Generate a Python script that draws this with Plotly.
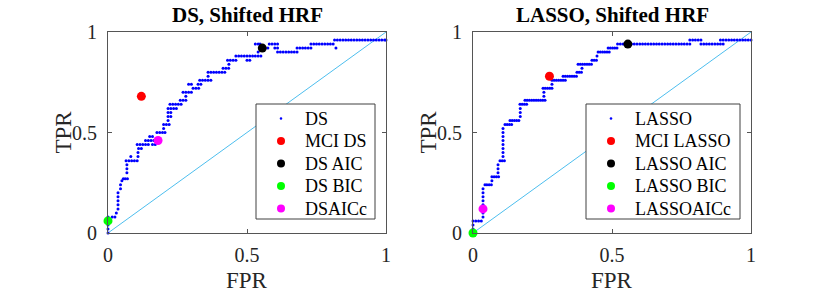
import plotly.graph_objects as go

# ---------------- data ----------------
PANEL_TITLES = ["DS, Shifted HRF", "LASSO, Shifted HRF"]
X_LABEL = "FPR"
Y_LABEL = "TPR"
TICK_VALS = [0, 0.5, 1]
TICK_TEXT = ["0", "0.5", "1"]

DS_NAMES = ["DS", "MCI DS", "DS AIC", "DS BIC", "DSAICc"]
LASSO_NAMES = ["LASSO", "MCI LASSO", "LASSO AIC", "LASSO BIC", "LASSOAICc"]

# ROC points (FPR, TPR)
DS_POINTS = [
    (0, 0), (0, 0.02), (0, 0.04), (0, 0.06), (0, 0.08),
    (0.015, 0.08), (0.025, 0.08), (0.03, 0.1),
    (0.036, 0.12), (0.036, 0.14), (0.036, 0.16), (0.036, 0.18), (0.036, 0.2),
    (0.045, 0.22), (0.045, 0.24), (0.05, 0.26),
    (0.055, 0.27), (0.062, 0.27), (0.07, 0.27),
    (0.068, 0.3), (0.068, 0.32), (0.068, 0.34),
    (0.065, 0.36), (0.075, 0.36), (0.085, 0.36), (0.095, 0.36), (0.105, 0.36),
    (0.082, 0.38),
    (0.108, 0.38), (0.108, 0.4), (0.11, 0.42), (0.12, 0.42),
    (0.105, 0.44), (0.115, 0.44), (0.125, 0.44), (0.135, 0.44), (0.145, 0.44), (0.16, 0.44), (0.17, 0.44),
    (0.135, 0.46), (0.145, 0.46), (0.155, 0.46), (0.165, 0.46), (0.175, 0.46), (0.185, 0.46),
    (0.15, 0.48), (0.16, 0.48),
    (0.176, 0.5), (0.186, 0.5), (0.196, 0.5), (0.205, 0.5),
    (0.2, 0.52),
    (0.2, 0.54), (0.21, 0.54), (0.22, 0.54),
    (0.216, 0.56), (0.216, 0.58), (0.226, 0.58), (0.216, 0.6), (0.226, 0.6),
    (0.216, 0.62), (0.226, 0.62), (0.236, 0.62), (0.246, 0.62),
    (0.223, 0.64), (0.233, 0.64), (0.243, 0.64), (0.253, 0.64), (0.263, 0.64),
    (0.26, 0.66), (0.27, 0.66), (0.28, 0.66),
    (0.28, 0.68),
    (0.27, 0.7), (0.28, 0.7), (0.29, 0.7), (0.3, 0.7),
    (0.306, 0.72), (0.316, 0.72), (0.326, 0.72),
    (0.29, 0.74), (0.3, 0.74), (0.324, 0.74), (0.334, 0.74),
    (0.33, 0.76), (0.34, 0.76), (0.35, 0.76), (0.36, 0.76), (0.37, 0.76),
    (0.36, 0.78),
    (0.36, 0.8), (0.37, 0.8), (0.38, 0.8), (0.39, 0.8), (0.4, 0.8), (0.41, 0.8), (0.42, 0.8),
    (0.414, 0.82), (0.424, 0.82), (0.434, 0.82),
    (0.435, 0.84),
    (0.43, 0.86), (0.44, 0.86), (0.45, 0.86), (0.46, 0.86),
    (0.46, 0.88), (0.47, 0.88), (0.48, 0.88), (0.49, 0.88),
    (0.5, 0.86), (0.51, 0.86),
    (0.5, 0.88), (0.51, 0.88), (0.52, 0.88), (0.53, 0.88), (0.54, 0.88), (0.55, 0.88),
    (0.54, 0.9),
    (0.53, 0.94), (0.54, 0.94), (0.547, 0.94),
    (0.565, 0.92), (0.575, 0.92),
    (0.58, 0.94), (0.59, 0.94), (0.6, 0.94), (0.61, 0.94),
    (0.6, 0.92), (0.61, 0.92),
    (0.61, 0.9), (0.62, 0.9), (0.63, 0.9), (0.64, 0.9), (0.65, 0.9), (0.66, 0.9), (0.67, 0.9), (0.68, 0.9),
    (0.68, 0.92), (0.69, 0.92), (0.7, 0.92), (0.71, 0.92), (0.72, 0.92), (0.73, 0.92),
    (0.73, 0.94), (0.74, 0.94), (0.75, 0.94), (0.76, 0.94), (0.77, 0.94), (0.78, 0.94), (0.79, 0.94),
    (0.8, 0.94), (0.81, 0.94),
    (0.82, 0.92),
    (0.815, 0.96), (0.825, 0.96), (0.835, 0.96), (0.845, 0.96), (0.855, 0.96), (0.865, 0.96),
    (0.875, 0.96), (0.885, 0.96), (0.895, 0.96), (0.905, 0.96), (0.915, 0.96), (0.925, 0.96),
    (0.935, 0.96), (0.945, 0.96), (0.955, 0.96), (0.965, 0.96), (0.975, 0.96), (0.985, 0.96),
    (0.995, 0.96), (1.0, 0.96),
]

LASSO_POINTS = [
    (0, 0), (0, 0.02), (0, 0.04),
    (0, 0.06), (0.01, 0.06), (0.02, 0.06), (0.03, 0.06),
    (0.036, 0.08), (0.036, 0.1), (0.036, 0.12), (0.036, 0.14), (0.036, 0.16), (0.036, 0.18),
    (0.036, 0.2), (0.036, 0.22),
    (0.043, 0.24), (0.05, 0.24), (0.058, 0.24), (0.066, 0.24),
    (0.068, 0.26),
    (0.068, 0.28), (0.076, 0.28), (0.084, 0.28), (0.092, 0.28),
    (0.09, 0.3), (0.09, 0.32), (0.09, 0.34),
    (0.097, 0.36), (0.105, 0.36), (0.113, 0.36),
    (0.108, 0.38), (0.108, 0.4), (0.108, 0.42), (0.108, 0.44), (0.108, 0.46), (0.108, 0.48),
    (0.108, 0.5), (0.108, 0.52),
    (0.115, 0.54), (0.123, 0.54), (0.131, 0.54), (0.139, 0.54),
    (0.133, 0.56), (0.141, 0.56), (0.149, 0.56), (0.157, 0.56), (0.165, 0.56),
    (0.17, 0.58), (0.17, 0.6), (0.17, 0.62),
    (0.169, 0.64), (0.177, 0.64), (0.185, 0.64), (0.193, 0.64),
    (0.187, 0.66), (0.195, 0.66), (0.203, 0.66), (0.211, 0.66), (0.219, 0.66), (0.227, 0.66),
    (0.235, 0.66), (0.243, 0.66), (0.251, 0.66), (0.259, 0.66),
    (0.255, 0.68), (0.255, 0.7),
    (0.252, 0.72), (0.26, 0.72), (0.268, 0.72), (0.276, 0.72), (0.284, 0.72),
    (0.284, 0.74),
    (0.284, 0.76), (0.292, 0.76), (0.3, 0.76), (0.308, 0.76), (0.316, 0.76), (0.324, 0.76), (0.332, 0.76),
    (0.324, 0.78), (0.332, 0.78), (0.34, 0.78), (0.348, 0.78), (0.356, 0.78), (0.364, 0.78), (0.372, 0.78),
    (0.374, 0.8), (0.382, 0.8), (0.39, 0.8),
    (0.392, 0.82),
    (0.378, 0.84), (0.386, 0.84), (0.394, 0.84), (0.402, 0.84), (0.41, 0.84), (0.418, 0.84), (0.426, 0.84),
    (0.428, 0.86), (0.436, 0.86), (0.444, 0.86),
    (0.446, 0.88),
    (0.45, 0.9), (0.458, 0.9), (0.466, 0.9), (0.474, 0.9), (0.482, 0.9), (0.49, 0.9),
    (0.486, 0.92), (0.494, 0.92), (0.502, 0.92), (0.51, 0.92), (0.518, 0.92),
    (0.52, 0.94), (0.53, 0.94), (0.54, 0.94), (0.55, 0.94), (0.56, 0.94), (0.57, 0.94), (0.58, 0.94),
    (0.59, 0.94), (0.6, 0.94), (0.61, 0.94), (0.62, 0.94), (0.63, 0.94), (0.64, 0.94), (0.65, 0.94),
    (0.66, 0.94), (0.67, 0.94), (0.68, 0.94), (0.69, 0.94), (0.7, 0.94), (0.71, 0.94), (0.72, 0.94),
    (0.73, 0.94), (0.74, 0.94), (0.75, 0.94), (0.76, 0.94), (0.77, 0.94), (0.78, 0.94),
    (0.78, 0.96), (0.79, 0.96), (0.8, 0.96), (0.81, 0.96), (0.82, 0.96),
    (0.82, 0.94), (0.83, 0.94), (0.84, 0.94), (0.85, 0.94), (0.86, 0.94), (0.87, 0.94), (0.88, 0.94),
    (0.89, 0.94), (0.9, 0.94),
    (0.89, 0.96), (0.9, 0.96), (0.91, 0.96), (0.92, 0.96), (0.93, 0.96), (0.94, 0.96), (0.95, 0.96),
    (0.96, 0.96), (0.97, 0.96), (0.98, 0.96), (0.99, 0.96), (1.0, 0.96),
]

# operating points (FPR, TPR): MCI, AIC, BIC, AICc
DS_MARKERS = [(0.12, 0.68), (0.555, 0.92), (0.0, 0.06), (0.18, 0.46)]
LASSO_MARKERS = [(0.275, 0.78), (0.557, 0.94), (0.0, 0.0), (0.036, 0.12)]
SERIES_COLORS = ["#0000FF", "#FF0000", "#000000", "#00FF00", "#FF00FF"]

# ---------------- figure ----------------
W, H = 830, 295
FONT = "Liberation Serif"
TXT = "#262626"
AX = "#555555"

fig = go.Figure()

panels = [
    dict(xa="x", ya="y", points=DS_POINTS, markers=DS_MARKERS, names=DS_NAMES),
    dict(xa="x2", ya="y2", points=LASSO_POINTS, markers=LASSO_MARKERS, names=LASSO_NAMES),
]

for p in panels:
    fig.add_trace(go.Scatter(x=[0, 1], y=[0, 1], mode="lines", xaxis=p["xa"], yaxis=p["ya"],
                             line=dict(color="#4DBEEE", width=1), showlegend=False, hoverinfo="skip"))
    fx = [a for a, b in p["points"]]
    fy = [b for a, b in p["points"]]
    fig.add_trace(go.Scatter(x=fx, y=fy, mode="markers", xaxis=p["xa"], yaxis=p["ya"],
                             name=p["names"][0], cliponaxis=False, showlegend=False,
                             marker=dict(color=SERIES_COLORS[0], size=3, line=dict(width=0))))
    for (mx, my), col, nm in zip(p["markers"], SERIES_COLORS[1:], p["names"][1:]):
        fig.add_trace(go.Scatter(x=[mx], y=[my], mode="markers", xaxis=p["xa"], yaxis=p["ya"],
                                 name=nm, cliponaxis=False, showlegend=False,
                                 marker=dict(color=col, size=9, line=dict(width=0))))


def px_x(v):
    return v / W


def px_y(v):
    return 1 - v / H


axis_common = dict(range=[0, 1], showgrid=False, zeroline=False, showline=True, linecolor=AX,
                   linewidth=1, mirror="allticks", ticks="inside", ticklen=4, tickcolor=AX,
                   tickvals=TICK_VALS, ticktext=TICK_TEXT, automargin=False,
                   tickfont=dict(family=FONT, size=20, color=TXT))

L0, L1 = 108, 386
R0, R1 = 473, 751
T0, B0 = 32, 233

fig.update_layout(
    width=W, height=H,
    margin=dict(l=0, r=0, t=0, b=0),
    paper_bgcolor="white", plot_bgcolor="white",
    showlegend=False,
    xaxis=dict(domain=[px_x(L0), px_x(L1)], anchor="y", ticklabelstandoff=4, **axis_common),
    yaxis=dict(domain=[px_y(B0), px_y(T0)], anchor="x", ticklabelstandoff=6, **axis_common),
    xaxis2=dict(domain=[px_x(R0), px_x(R1)], anchor="y2", ticklabelstandoff=4, **axis_common),
    yaxis2=dict(domain=[px_y(B0), px_y(T0)], anchor="x2", ticklabelstandoff=6, **axis_common),
)

annos = []
shapes = []
for title, (a, b) in zip(PANEL_TITLES, [(L0, L1), (R0, R1)]):
    cx = (a + b) / 2
    annos.append(dict(text="<b>%s</b>" % title, x=px_x(cx), y=px_y(15), xref="paper", yref="paper",
                      showarrow=False, xanchor="center", yanchor="middle",
                      font=dict(family=FONT, size=21, color="#000000")))
    annos.append(dict(text=X_LABEL, x=px_x(cx), y=px_y(280), xref="paper", yref="paper",
                      showarrow=False, xanchor="center", yanchor="middle",
                      font=dict(family=FONT, size=23, color=TXT)))
    annos.append(dict(text=Y_LABEL, x=px_x(a - 45), y=px_y((T0 + B0) / 2), xref="paper", yref="paper",
                      showarrow=False, xanchor="center", yanchor="middle", textangle=-90,
                      font=dict(family=FONT, size=23, color=TXT)))

# legend boxes (drawn as layout shapes + text so the row spacing matches)
LEG_BOXES = [(256, 375, panels[0]["names"]), (586, 740, panels[1]["names"])]
LEG_TOP, LEG_BOTTOM = 104, 219
ROW0, ROW_STEP = 118.5, 22.5
for (lx0, lx1, names) in LEG_BOXES:
    shapes.append(dict(type="rect", xref="paper", yref="paper", layer="above",
                       x0=px_x(lx0), x1=px_x(lx1), y0=px_y(LEG_BOTTOM), y1=px_y(LEG_TOP),
                       fillcolor="white", line=dict(color="#404040", width=1)))
    for i, (nm, col) in enumerate(zip(names, SERIES_COLORS)):
        cy = ROW0 + i * ROW_STEP
        mx = lx0 + 25
        r = 1.3 if i == 0 else 4
        shapes.append(dict(type="circle", xref="paper", yref="paper", layer="above",
                           x0=px_x(mx - r), x1=px_x(mx + r), y0=px_y(cy + r), y1=px_y(cy - r),
                           fillcolor=col, line=dict(width=0)))
        annos.append(dict(text=nm, x=px_x(lx0 + 47), y=px_y(cy), xref="paper", yref="paper",
                          showarrow=False, xanchor="left", yanchor="middle",
                          font=dict(family=FONT, size=18, color="#000000")))

fig.update_layout(annotations=annos, shapes=shapes)

fig.write_html("out.html", config={"displayModeBar": False},
               post_script="document.body.style.margin='0';document.body.style.padding='0';")
